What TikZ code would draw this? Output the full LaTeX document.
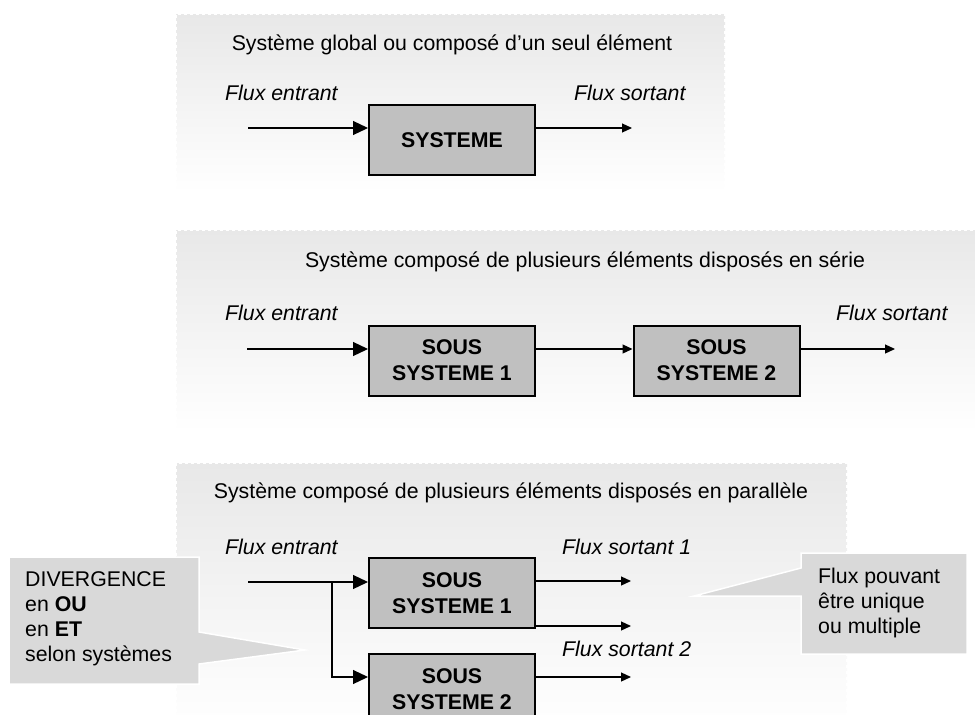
\documentclass[tikz,border=0pt]{standalone}
\usepackage{fontspec}
\setmainfont{Liberation Sans}
\usetikzlibrary{arrows.meta}
\definecolor{panelgray}{RGB}{232,232,232}
\definecolor{boxgray}{RGB}{192,192,192}
\definecolor{callgray}{RGB}{217,217,217}
\begin{document}
\begin{tikzpicture}[x=1pt,y=-1pt,
  every node/.style={font=\fontsize{21.3}{25}\selectfont, inner sep=0pt},
  lbl/.style={anchor=base west, font=\fontsize{21.3}{25}\selectfont\itshape},
  ttl/.style={anchor=base},
  sysbox/.style={draw=black, line width=2pt, fill=boxgray, minimum width=166pt,
    minimum height=70pt, align=center, font=\fontsize{21.3}{26}\selectfont\bfseries},
  bigarr/.style={line width=1.2pt, -{Triangle[length=15pt,width=14pt]}},
  smallarr/.style={line width=1.2pt, -{Triangle[length=10pt,width=9pt]}},
  panelbg/.style={top color=panelgray, bottom color=white, draw=none},
  paneledge/.style={white, line width=2pt, dash pattern=on 3pt off 3pt},
  callshape/.style={fill=callgray, draw=white, line width=1.5pt},
  calltext/.style={anchor=north west, align=left}
]
\useasboundingbox (0,0) rectangle (975,715);

% ---------- panels ----------
\shade[panelbg] (176,14) rectangle (725,192);
\draw[paneledge] (176,192) -- (176,14) -- (725,14) -- (725,192);
\shade[panelbg] (176,230) rectangle (995,432);
\draw[paneledge] (176,432) -- (176,230) -- (995,230);
\shade[panelbg] (176,463) rectangle (847,730);
\draw[paneledge] (176,730) -- (176,463) -- (847,463) -- (847,730);

% ---------- panel 1 ----------
\node[ttl] (t1) at (452,50) {Système global ou composé d’un seul élément};
\node[lbl] (fe1) at (225,100) {Flux entrant};
\node[lbl] (fs1) at (574,100) {Flux sortant};
\node[sysbox] (sys) at (452,140) {SYSTEME};
\coordinate (in1) at (248,128);
\coordinate (out1) at (632,128);
\draw[bigarr] (in1) -- (in1 -| sys.west);
\draw[smallarr] (in1 -| sys.east) -- (out1);

% ---------- panel 2 ----------
\node[ttl] (t2) at (585,267) {Système composé de plusieurs éléments disposés en série};
\node[lbl] (fe2) at (225,320) {Flux entrant};
\node[lbl] (fs2) at (836,320) {Flux sortant};
\node[sysbox] (ss1) at (452,360.5) {SOUS\\SYSTEME 1};
\node[sysbox] (ss2) at (716.5,360.5) {SOUS\\SYSTEME 2};
\coordinate (in2) at (247,349);
\coordinate (out2) at (895,349);
\draw[bigarr] (in2) -- (in2 -| ss1.west);
\draw[smallarr] (in2 -| ss1.east) -- (in2 -| ss2.west);
\draw[smallarr] (in2 -| ss2.east) -- (out2);

% ---------- callouts ----------
\draw[callshape] (9,557) -- (199,557) -- (199,632) -- (305,650) -- (199,664)
  -- (199,684) -- (9,684) -- cycle;
\draw[callshape] (801,553) -- (967,553) -- (967,654) -- (801,654) -- (801,596)
  -- (694,596) -- (801,568) -- cycle;
\node[calltext] (divtxt) at (25,571.5) {DIVERGENCE\\en \textbf{OU}\\en \textbf{ET}\\selon systèmes};
\node[calltext] (flxtxt) at (818,567.5) {Flux pouvant\\être unique\\ou multiple};

% ---------- panel 3 ----------
\node[ttl] (t3) at (511,498) {Système composé de plusieurs éléments disposés en parallèle};
\node[lbl] (fe3) at (225,554) {Flux entrant};
\node[lbl] (fs31) at (562,554) {Flux sortant 1};
\node[lbl] (fs32) at (562,656) {Flux sortant 2};
\node[sysbox] (ps1) at (452,593) {SOUS\\SYSTEME 1};
\node[sysbox] (ps2) at (452,689) {SOUS\\SYSTEME 2};
\coordinate (in3) at (248,582);
\coordinate (br) at (332,582);
\coordinate (br2) at (332,677);
\coordinate (o1) at (631,581);
\coordinate (o2) at (631,626);
\coordinate (o3) at (631,677);
\draw[bigarr] (in3) -- (in3 -| ps1.west);
\draw[bigarr] (br) -- (br2) -- (br2 -| ps2.west);
\draw[smallarr] (o1 -| ps1.east) -- (o1);
\draw[smallarr] (o2 -| ps1.east) -- (o2);
\draw[smallarr] (o3 -| ps2.east) -- (o3);
\end{tikzpicture}
\end{document}
